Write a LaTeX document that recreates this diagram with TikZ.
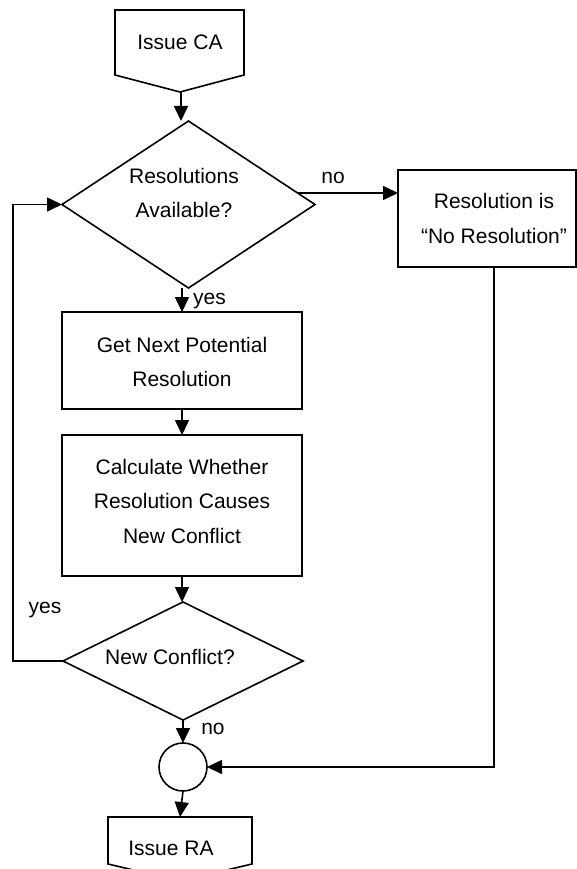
\documentclass[tikz,border=0pt]{standalone}
\usepackage{fontspec}
\setmainfont{Liberation Sans}
\usetikzlibrary{shapes.geometric,arrows.meta,calc}
\begin{document}
\begin{tikzpicture}[x=1pt,y=-1pt,
  every node/.style={font=\fontsize{21}{34.5}\selectfont},
  shp/.style={draw,line width=1.6pt,inner sep=0pt,outer sep=0pt},
  lbl/.style={inner sep=0pt,align=center},
  arr/.style={line width=1.6pt,-{Triangle[length=15pt,width=14pt]}},
  ln/.style={line width=1.6pt}]
\useasboundingbox (0,0) rectangle (577,869);
\clip (0,0) rectangle (577,869);

% Issue CA (off-page connector)
\draw[ln] (115,10) -- (244,10) -- (244,75) -- (180,92) -- (115,75) -- cycle;
\node[lbl] (ca) at (180,42) {Issue CA};
\coordinate (caout) at (181,92);

% Decision 1
\node[shp,diamond,minimum width=253pt,minimum height=167pt] (d1) at (188.5,204.5) {};
\node[lbl] (d1t) at (184,193) {Resolutions\\Available?};

% No resolution box
\node[shp,rectangle,minimum width=178pt,minimum height=97pt] (nr) at (487,218.5) {};
\node[lbl] (nrt) at (494,218.5) {Resolution is\\“No Resolution”};

% Process boxes
\node[shp,rectangle,minimum width=240pt,minimum height=97pt] (b1) at (182,360.5) {};
\node[lbl] (b1t) at (182,362) {Get Next Potential\\Resolution};
\node[shp,rectangle,minimum width=240pt,minimum height=141pt] (b2) at (182,505.5) {};
\node[lbl] (b2t) at (182,501) {Calculate Whether\\Resolution Causes\\New Conflict};

% Decision 2
\node[shp,diamond,minimum width=240pt,minimum height=118pt] (d2) at (183,661) {};
\node[lbl] (d2t) at (170,656.5) {New Conflict?};

% Merge circle
\node[shp,circle,minimum size=48pt] (cc) at (183,767) {};

% Issue RA (off-page connector, clipped)
\draw[ln] (108,817) -- (252,817) -- (252,864) -- (180,881) -- (108,864) -- cycle;
\node[lbl] (ra) at (171,848.5) {Issue RA};
\coordinate (rain) at (180,817);

% Connectors
\draw[arr] (caout) -- (caout |- d1.north);
\draw[arr] ($(d1.east)+(-17,-11.5)$) -- ($(nr.west)+(0,-25.5)$);
\node[lbl] (no1) at (333,178) {no};
\draw[arr] (b1.north |- d1.south) -- (b1.north);
\node[lbl,anchor=base west] (yes1) at (193,304) {yes};
\draw[arr] (b1.south) -- (b2.north);
\draw[arr] (b2.south) -- (b2.south |- d2.north);
\draw[arr] (d2.west) -- ++(-50,0) |- (d1.west);
\node[lbl,anchor=base] (yes2) at (45,613) {yes};
\draw[arr] (d2.south) -- (cc.north);
\node[lbl] (no2) at (213,728.5) {no};
\draw[arr] ($(nr.south)+(7,0)$) |- (cc.east);
\draw[arr] (cc.south) -- (rain);
\end{tikzpicture}
\end{document}
